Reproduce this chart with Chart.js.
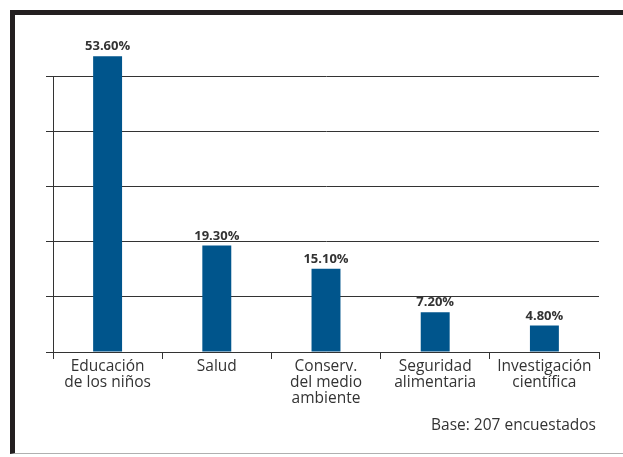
<!DOCTYPE html>
<html lang="es">
<head>
<meta charset="UTF-8">
<title>Base: 207 encuestados</title>
<script src="https://cdn.jsdelivr.net/npm/chart.js"></script>
<style>
    body { margin: 0; background: #fff; }
    .frame {
        position: absolute; left: 10px; top: 10px;
        width: 613px; height: 444px;
        border-top: 5px solid #231f20;
        border-left: 5px solid #231f20;
        border-bottom: 1px solid #b0b0b0;
        box-sizing: border-box;
    }
    #chart { position: absolute; left: 0; top: 0; }
</style>
</head>
<body>
<div class="frame"></div>
<canvas id="chart" width="623" height="457"></canvas>
<script>
    // data
    const categories = [
        ["Educación", "de los niños"],
        ["Salud"],
        ["Conserv.", "del medio", "ambiente"],
        ["Seguridad", "alimentaria"],
        ["Investigación", "científica"]
    ];
    const percents = [53.6, 19.3, 15.1, 7.2, 4.8];
    const yTicks = [0, 10, 20, 30, 40, 50];
    const footNote = "Base: 207 encuestados";

    const fontFam = "'Open Sans', 'Noto Sans', sans-serif";

    // values above the bars + footnote
    const labelsPlugin = {
        id: "barLabels",
        afterDatasetsDraw(chart) {
            const ctx = chart.ctx;
            ctx.save();
            ctx.fillStyle = "#333";
            ctx.font = "bold 13px " + fontFam;
            ctx.textAlign = "center";
            ctx.textBaseline = "bottom";
            chart.getDatasetMeta(0).data.forEach((bar, i) => {
                ctx.fillText(percents[i].toFixed(2) + "%", bar.x, bar.y - 3);
            });
            ctx.font = "15.5px " + fontFam;
            ctx.textAlign = "right";
            ctx.textBaseline = "alphabetic";
            ctx.fillText(footNote, chart.chartArea.right - 3, 430);
            ctx.restore();
        }
    };

    new Chart(document.getElementById("chart"), {
        type: "bar",
        data: {
            labels: categories,
            datasets: [{
                data: percents,
                backgroundColor: "#00558c",
                barPercentage: 0.53,
                categoryPercentage: 0.5,
                clip: false
            }]
        },
        options: {
            responsive: false,
            animation: false,
            layout: { padding: { top: 76, right: 24, left: 0, bottom: 0 } },
            plugins: { legend: { display: false }, tooltip: { enabled: false } },
            scales: {
                x: {
                    grid: { drawOnChartArea: false, drawTicks: true, tickLength: 7, offset: true, color: "#333" },
                    border: { color: "#333" },
                    ticks: { color: "#333", padding: 0, font: { family: fontFam, size: 15.5, lineHeight: 1.03 }, maxRotation: 0, autoSkip: false },
                    afterFit(scale) { scale.height = 105; }
                },
                y: {
                    min: yTicks[0],
                    max: yTicks[yTicks.length - 1],
                    afterBuildTicks(scale) { scale.ticks = yTicks.map(v => ({ value: v })); },
                    grid: { color: "#333", tickLength: 7 },
                    border: { color: "#333" },
                    ticks: { display: false },
                    afterFit(scale) { scale.width = 53; }
                }
            }
        },
        plugins: [labelsPlugin]
    });
</script>
</body>
</html>
